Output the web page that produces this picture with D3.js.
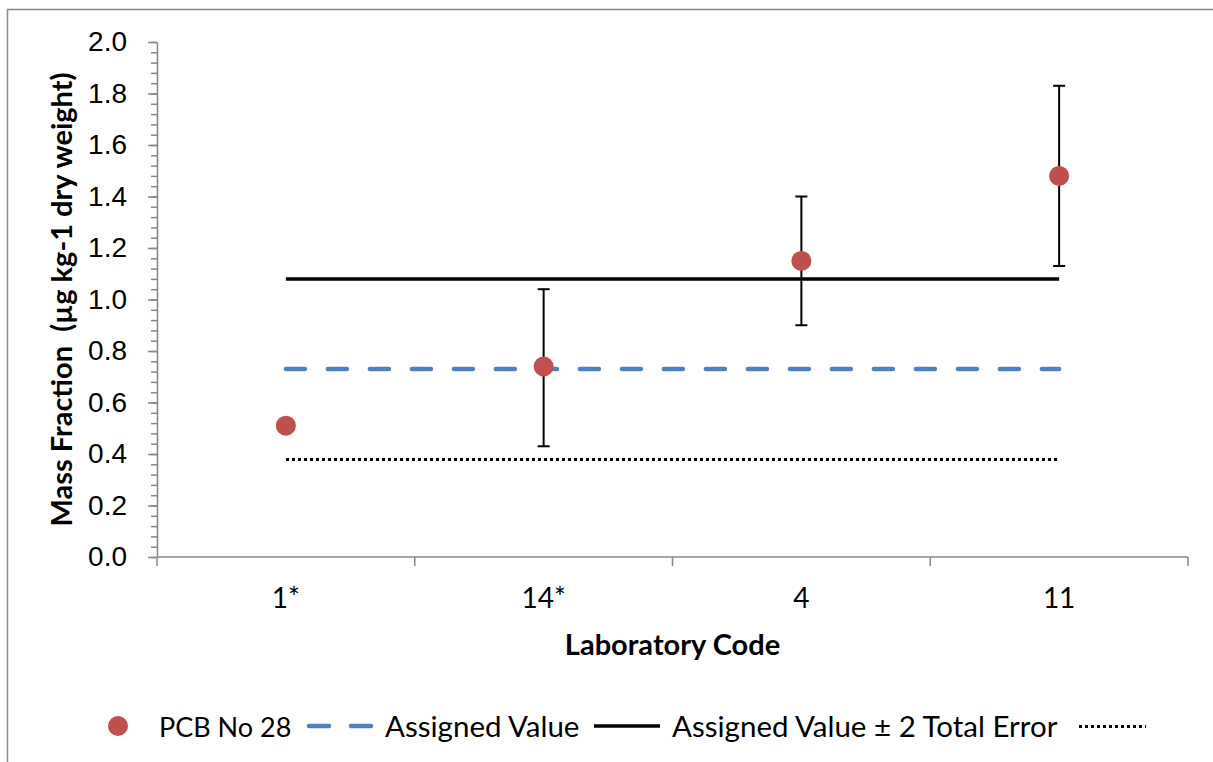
<!DOCTYPE html>
<html>
<head>
<meta charset="utf-8">
<script src="https://cdn.jsdelivr.net/npm/d3@7"></script>
<style>
  body { margin: 0; background: #fff; }
  svg { display: block; font-family: Lato, "Open Sans", sans-serif; }
  .axis path, .axis line { stroke: #868686; stroke-width: 1.5; }
  .axis text { font-size: 28px; fill: #000; }
</style>
</head>
<body>
<div id="chart"></div>
<script>
// lab codes and reported values
const labs = ["1*", "14*", "4", "11"];
const values = [0.51, 0.74, 1.15, 1.48];
const errLow = [null, 0.43, 0.90, 1.13];
const errHigh = [null, 1.04, 1.40, 1.83];

const assignedValue = 0.73;
const upperLimit = 1.08;
const lowerLimit = 0.38;

const yTicks = [0, 0.2, 0.4, 0.6, 0.8, 1.0, 1.2, 1.4, 1.6, 1.8, 2.0];

const W = 1213, H = 762;
const margin = {top: 42, right: 25, bottom: 205, left: 157};
const width = W - margin.left - margin.right;
const height = H - margin.top - margin.bottom;

const svg = d3.select("#chart").append("svg")
  .attr("width", W)
  .attr("height", H);

// chart frame
svg.append("rect")
  .attr("x", 7.5).attr("y", 9.5)
  .attr("width", W + 20).attr("height", H + 20)
  .attr("fill", "none")
  .attr("stroke", "#898989")
  .attr("stroke-width", 1.5);

const g = svg.append("g")
  .attr("transform", `translate(${margin.left},${margin.top})`);

const x = d3.scaleBand().domain(labs).range([0, width]).padding(0);
const y = d3.scaleLinear().domain([0, 2]).range([height, 0]);
const cx = d => x(d) + x.bandwidth() / 2;

// y axis, minor ticks first
g.append("g")
  .attr("class", "axis")
  .call(d3.axisLeft(y).tickValues(d3.range(0, 2.001, 0.04)).tickSize(6).tickFormat(""))
  .call(a => a.select(".domain").remove());

g.append("g")
  .attr("class", "axis")
  .call(d3.axisLeft(y).tickValues(yTicks).tickSize(9).tickSizeOuter(0).tickFormat(d3.format(".1f")))
  .call(a => a.selectAll("text").attr("x", -30));

// x axis with ticks between categories
const xAxisG = g.append("g")
  .attr("class", "axis")
  .attr("transform", `translate(0,${height})`);
xAxisG.append("line")
  .attr("x1", 0).attr("x2", width);
xAxisG.selectAll(".bt")
  .data(labs.map(d => x(d)).concat([width]))
  .join("line")
  .attr("class", "bt")
  .attr("x1", d => d).attr("x2", d => d)
  .attr("y1", 0).attr("y2", 9);
xAxisG.selectAll("text")
  .data(labs)
  .join("text")
  .attr("x", d => cx(d))
  .attr("y", 51)
  .attr("text-anchor", "middle")
  .text(d => d);

// reference lines
const x0 = cx(labs[0]), x1 = cx(labs[labs.length - 1]);
g.append("line")
  .attr("x1", x0).attr("x2", x1)
  .attr("y1", Math.round(y(lowerLimit))).attr("y2", Math.round(y(lowerLimit)))
  .attr("stroke", "#000").attr("stroke-width", 3)
  .attr("shape-rendering", "crispEdges")
  .attr("stroke-dasharray", "3,3");
g.append("line")
  .attr("x1", x0).attr("x2", x1)
  .attr("y1", y(assignedValue)).attr("y2", y(assignedValue))
  .attr("stroke", "#4f81bd").attr("stroke-width", 4.5)
  .attr("stroke-linecap", "round")
  .attr("stroke-dasharray", "19,23");
g.append("line")
  .attr("x1", x0).attr("x2", x1)
  .attr("y1", y(upperLimit)).attr("y2", y(upperLimit))
  .attr("stroke", "#000").attr("stroke-width", 3.5);

// error bars
const eb = labs.map((d, i) => ({lab: d, lo: errLow[i], hi: errHigh[i]})).filter(d => d.lo != null);
const ebG = g.selectAll(".eb").data(eb).join("g").attr("class", "eb")
  .attr("stroke", "#000").attr("stroke-width", 2);
ebG.append("line")
  .attr("x1", d => cx(d.lab)).attr("x2", d => cx(d.lab))
  .attr("y1", d => y(d.lo)).attr("y2", d => y(d.hi));
ebG.append("line")
  .attr("x1", d => cx(d.lab) - 6).attr("x2", d => cx(d.lab) + 6)
  .attr("y1", d => y(d.lo)).attr("y2", d => y(d.lo));
ebG.append("line")
  .attr("x1", d => cx(d.lab) - 6).attr("x2", d => cx(d.lab) + 6)
  .attr("y1", d => y(d.hi)).attr("y2", d => y(d.hi));

// points
g.selectAll(".pt")
  .data(labs)
  .join("circle")
  .attr("class", "pt")
  .attr("cx", d => cx(d))
  .attr("cy", (d, i) => y(values[i]))
  .attr("r", 10)
  .attr("fill", "#c0504d");

// axis titles
svg.append("text")
  .attr("transform", `translate(72,${margin.top + height / 2}) rotate(-90)`)
  .attr("text-anchor", "middle")
  .style("font-size", "29px").style("font-weight", "bold")
  .style("white-space", "pre")
  .text("Mass Fraction  (µg kg-1 dry weight)");

svg.append("text")
  .attr("x", margin.left + width / 2)
  .attr("y", 655)
  .attr("text-anchor", "middle")
  .style("font-size", "29px").style("font-weight", "bold")
  .text("Laboratory Code");

// legend
const ly = 726;
const leg = svg.append("g").style("font-size", "29.5px");
leg.append("circle").attr("cx", 118).attr("cy", ly).attr("r", 10).attr("fill", "#c0504d");
leg.append("text").attr("x", 159).attr("y", ly + 11).style("font-size", "27px").text("PCB No 28");
leg.append("line").attr("x1", 309).attr("x2", 371).attr("y1", ly).attr("y2", ly)
  .attr("stroke", "#4f81bd").attr("stroke-width", 4.5)
  .attr("stroke-linecap", "round").attr("stroke-dasharray", "20,22");
leg.append("text").attr("x", 385).attr("y", ly + 11).text("Assigned Value");
leg.append("line").attr("x1", 594).attr("x2", 660).attr("y1", ly).attr("y2", ly)
  .attr("stroke", "#000").attr("stroke-width", 3.5);
leg.append("text").attr("x", 672).attr("y", ly + 11).text("Assigned Value ± 2 Total Error");
leg.append("line").attr("x1", 1079).attr("x2", 1146).attr("y1", ly).attr("y2", ly)
  .attr("stroke", "#000").attr("stroke-width", 3)
  .attr("shape-rendering", "crispEdges").attr("stroke-dasharray", "3,3");
</script>
</body>
</html>
